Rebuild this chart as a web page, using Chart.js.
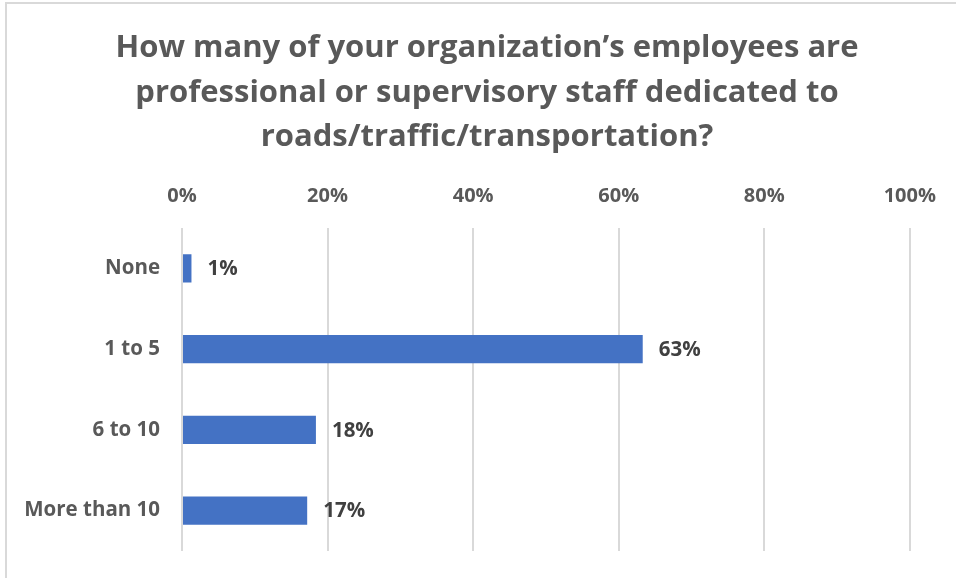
<!DOCTYPE html>
<html>
<head>
<meta charset="utf-8">
<title>Professional or supervisory staff</title>
<script src="https://cdn.jsdelivr.net/npm/chart.js@4"></script>
<style>
  body { margin: 0; background: #fff; }
  #wrap { position: relative; width: 956px; height: 578px; }
  #frame { position: absolute; left: 5px; top: 2px; right: -4px; bottom: -4px; border: 2px solid #d9d9d9; box-sizing: border-box; }
  canvas { position: absolute; left: 0; top: 0; }
</style>
</head>
<body>
<div id="wrap">
  <div id="frame"></div>
  <canvas id="myChart" width="956" height="578"></canvas>
</div>
<script>
// survey answers (percent of respondents)
var categories = ["None", "1 to 5", "6 to 10", "More than 10"];
var shares = [1.3, 63.3, 18.4, 17.2];
var tickValues = [0, 20, 40, 60, 80, 100];
var titleLines = [
  "How many of your organization\u2019s employees are",
  "professional or supervisory staff dedicated to",
  "roads/traffic/transportation?"
];

var FONT = '"Open Sans", "Noto Sans", sans-serif';

// draws "63%" etc. just past the end of each bar
var barLabels = {
  id: 'barLabels',
  afterDatasetsDraw: function (chart) {
    var ctx = chart.ctx;
    var meta = chart.getDatasetMeta(0);
    ctx.save();
    ctx.font = 'bold 20.5px ' + FONT;
    ctx.fillStyle = '#404040';
    ctx.textAlign = 'left';
    ctx.textBaseline = 'middle';
    meta.data.forEach(function (bar, i) {
      ctx.fillText(Math.round(shares[i]) + '%', bar.x + 16, bar.y + 1);
    });
    ctx.restore();
  }
};

// the original title sits a bit right of the canvas centre
var titleShift = {
  id: 'titleShift',
  afterLayout: function (chart) {
    if (chart.titleBlock) {
      chart.titleBlock.left += 23;
      chart.titleBlock.right += 23;
    }
  }
};

var ctx = document.getElementById("myChart").getContext('2d');

var myChart = new Chart(ctx, {
  type: 'bar',
  data: {
    labels: categories,
    datasets: [{
      data: shares,
      backgroundColor: '#4472c4',
      borderWidth: 0,
      barPercentage: 0.35,
      categoryPercentage: 1
    }]
  },
  options: {
    indexAxis: 'y',
    responsive: false,
    animation: false,
    layout: { padding: { left: 18, right: 46, top: 0, bottom: 27 } },
    plugins: {
      legend: { display: false },
      tooltip: { enabled: false },
      title: {
        display: true,
        text: titleLines,
        color: '#595959',
        font: { family: FONT, size: 31, weight: 'bold', lineHeight: 1.44 },
        padding: { top: 26, bottom: 0 }
      }
    },
    scales: {
      x: {
        position: 'top',
        min: 0,
        max: 100,
        afterBuildTicks: function (scale) {
          scale.ticks = tickValues.map(function (v) { return { value: v }; });
        },
        ticks: {
          color: '#595959',
          font: { family: FONT, size: 20, weight: 'bold' },
          padding: 20,
          maxRotation: 0,
          callback: function (v) { return v + '%'; }
        },
        grid: { color: '#d9d9d9', lineWidth: 2, drawTicks: false },
        border: { display: false },
        afterFit: function (scale) { scale.height = 68; }
      },
      y: {
        ticks: {
          color: '#595959',
          font: { family: FONT, size: 20.5, weight: 'bold' },
          padding: 22
        },
        grid: { display: false, drawTicks: false },
        border: { display: false },
        afterFit: function (scale) {
          scale.width = 164;
          scale.paddingTop = 0;
          scale.paddingBottom = 0;
        }
      }
    }
  },
  plugins: [barLabels, titleShift]
});
</script>
</body>
</html>
